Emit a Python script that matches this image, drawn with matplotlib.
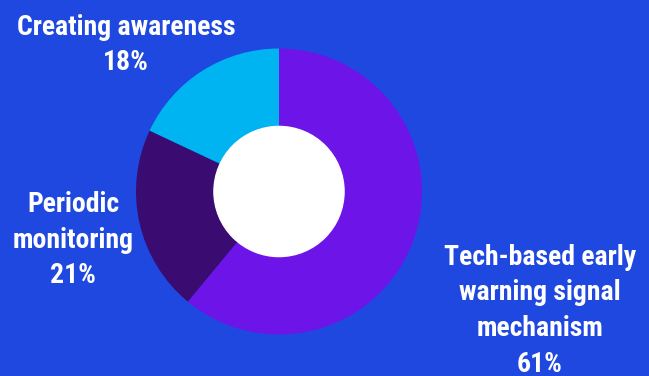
import matplotlib.pyplot as plt
from matplotlib import font_manager

labels = ["Tech-based early\nwarning signal\nmechanism", "Periodic\nmonitoring", "Creating awareness"]
shares = [61, 21, 18]
colors = ["#6D14E8", "#3A0B70", "#00B4F2"]
bg = "#1F48E0"

W, H = 649, 376
fig = plt.figure(figsize=(W / 100, H / 100), dpi=100, facecolor=bg)

# donut: centre ~ (279, 191) px, outer radius ~143 px, hole ~65 px
cx, cy, r = 279, 191.5, 143
ax = fig.add_axes([(cx - r) / W, (H - cy - r) / H, 2 * r / W, 2 * r / H])
ax.pie(shares, colors=colors, startangle=90, counterclock=False,
       radius=1, wedgeprops=dict(width=0.545, linewidth=0))
ax.add_patch(plt.Circle((0, 0), 0.455, color="white", zorder=5))
ax.set_xlim(-1, 1)
ax.set_ylim(-1, 1)
ax.set_aspect("equal")
ax.axis("off")

# pick a narrow font if one is around
fonts = font_manager.fontManager.ttflist
fam, stretch = "DejaVu Sans", "normal"
for want in ["Roboto Condensed", "Liberation Sans Narrow", "Open Sans Condensed"]:
    if any(f.name == want for f in fonts):
        fam = want
        break
else:
    if any(f.name == "DejaVu Sans" and f.stretch == "condensed" for f in fonts):
        stretch = "condensed"

# size the text so "Creating awareness" is ~218 px wide like the reference
rend = fig.canvas.get_renderer()
probe = fig.text(0, 0, "Creating awareness", fontsize=20, fontweight="bold",
                 family=fam, fontstretch=stretch)
size = 20 * 218 / probe.get_window_extent(rend).width
probe.remove()

# (centre x, first baseline y) in pixels from top-left, line pitch ~35.5 px
label_pos = [(540, 265), (73, 212), (126, 35)]
pitch = 35.5
for lab, val, (x, y0) in zip(labels, shares, label_pos):
    lines = lab.split("\n") + [f"{val}%"]
    for i, line in enumerate(lines):
        fig.text(x / W, 1 - (y0 + i * pitch) / H, line, ha="center", va="baseline",
                 color="white", fontsize=size, fontweight="bold", family=fam,
                 fontstretch=stretch)

fig.savefig("out.png", dpi=100, facecolor=bg)
